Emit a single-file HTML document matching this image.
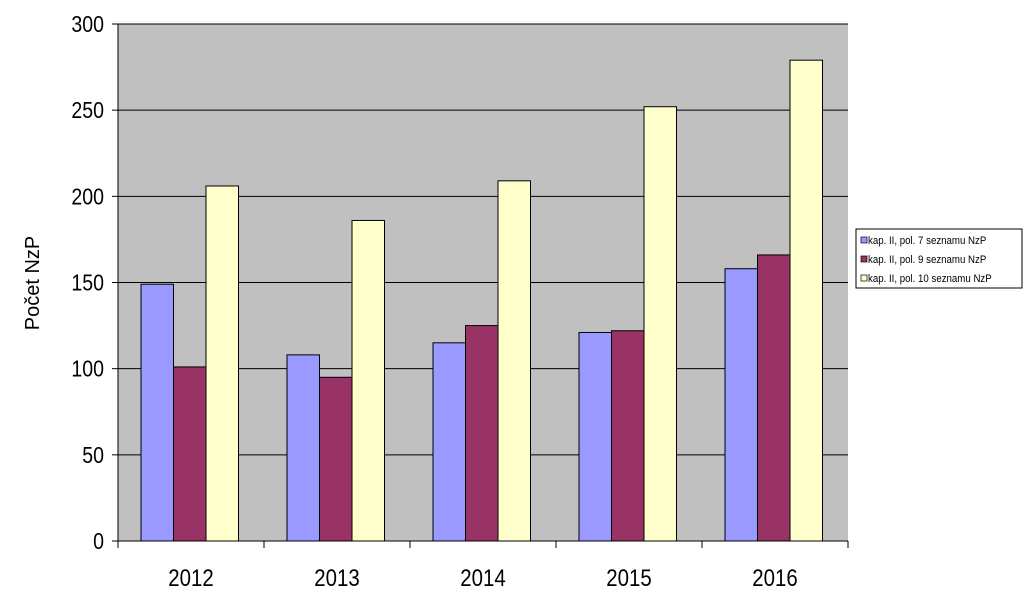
<!DOCTYPE html>
<html><head><meta charset="utf-8"><style>body{margin:0;background:#fff}svg{display:block}text{font-family:"Liberation Sans",Arial,sans-serif}</style></head>
<body>
<svg id="c" width="1024" height="592"></svg>
<script>
const categories=["2012","2013","2014","2015","2016"];
const series1=[149,108,115,121,158];
const series2=[101,95,125,122,166];
const series3=[206,186,209,252,279];
const yTicks=[0,50,100,150,200,250,300];
const seriesNames=["kap. II, pol. 7 seznamu NzP","kap. II, pol. 9 seznamu NzP","kap. II, pol. 10 seznamu NzP"];
const colors=["#9999ff","#993366","#ffffcc"];
const svg=document.getElementById('c');const NS="http://www.w3.org/2000/svg";
function el(t,a,p){const e=document.createElementNS(NS,t);for(const k in a)e.setAttribute(k,a[k]);(p||svg).appendChild(e);return e;}
const X0=118,X1=848,Y0=541,Y1=24,ymax=300;
const y=v=>Y0-(v/ymax)*(Y0-Y1);
const cw=(X1-X0)/categories.length;
const bw=32.5;
const bg=el('rect',{x:X0,y:Y1,width:X1-X0,height:Y0-Y1,fill:'#c0c0c0'});

yTicks.forEach(t=>{
 if(t>0){const g=el('line',{x1:X0,x2:X1,y1:y(t),y2:y(t),stroke:'#000','stroke-width':1});
 }
 el('line',{x1:X0-6,x2:X0,y1:y(t),y2:y(t),stroke:'#000'});
 const tx=el('text',{x:X0-14,y:y(t)+8,'text-anchor':'end','font-size':23,transform:`translate(${X0-14},0) scale(0.85,1) translate(${-(X0-14)},0)`});
 tx.textContent=t;
});
const all=[series1,series2,series3];
categories.forEach((c,i)=>{
 const gx=X0+i*cw+23;
 all.forEach((s,j)=>{
  const r=el('rect',{x:gx+j*bw,y:y(s[i]),width:bw,height:Y0-y(s[i]),fill:colors[j],stroke:'#000','stroke-width':1});
  
 });
 const cx=X0+i*cw+cw/2;
 const tx=el('text',{x:cx,y:586,'text-anchor':'middle','font-size':24,transform:`translate(${cx},0) scale(0.85,1) translate(${-cx},0)`});
 tx.textContent=c;
});
for(let i=0;i<=categories.length;i++){const xx=X0+i*cw;el('line',{x1:xx,x2:xx,y1:Y0,y2:Y0+7,stroke:'#000'});}
el('line',{x1:X0,x2:X0,y1:Y1,y2:Y0,stroke:'#000'});
el('line',{x1:X0,x2:X1,y1:Y0,y2:Y0,stroke:'#000'});
const yt=el('text',{x:0,y:0,'text-anchor':'middle','font-size':20,transform:'translate(39,283) rotate(-90)'});
yt.textContent='Počet NzP';
const lg=el('g',{});
el('rect',{x:856,y:229,width:166,height:59,fill:'#fff',stroke:'#000','stroke-width':1},lg);
seriesNames.forEach((n,j)=>{
 const ly=242+j*19;
 const sw=el('rect',{x:861,y:ly-5,width:6,height:6,fill:colors[j],stroke:'#000','stroke-width':0.7},lg);
 
 const t=el('text',{x:868,y:ly+2,'font-size':11,transform:`translate(868,0) scale(0.88,1) translate(-868,0)`},lg);
 t.textContent=n;
});
</script>
</body></html>
